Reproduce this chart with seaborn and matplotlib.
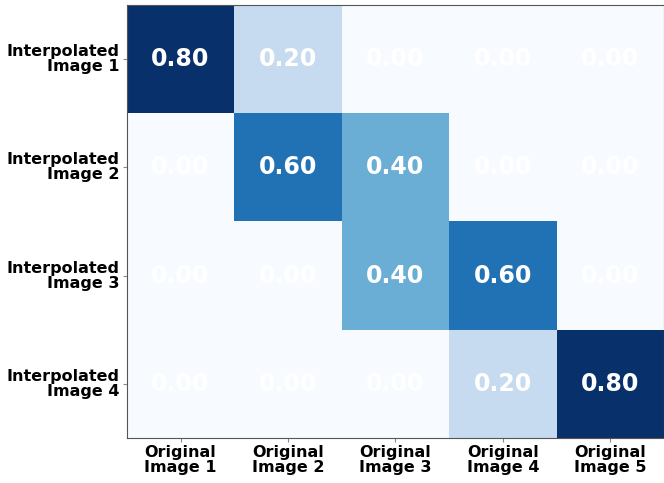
import numpy as np
import seaborn as sns
import matplotlib
matplotlib.use("Agg")
import matplotlib.pyplot as plt

row_labels = ["Interpolated\nImage 1", "Interpolated\nImage 2", "Interpolated\nImage 3", "Interpolated\nImage 4"]
col_labels = ["Original\nImage 1", "Original\nImage 2", "Original\nImage 3", "Original\nImage 4", "Original\nImage 5"]
row1 = [0.80, 0.20, 0.00, 0.00, 0.00]
row2 = [0.00, 0.60, 0.40, 0.00, 0.00]
row3 = [0.00, 0.00, 0.40, 0.60, 0.00]
row4 = [0.00, 0.00, 0.00, 0.20, 0.80]

weights = np.array([row1, row2, row3, row4])

fig = plt.figure(figsize=(6.64, 4.83), dpi=100)
ax = fig.add_axes([0.191, 0.093, 0.809, 0.897])
sns.heatmap(weights, ax=ax, cmap="Blues", cbar=False, annot=True, fmt=".2f",
            annot_kws={"color": "white", "fontsize": 17, "fontweight": "bold"},
            xticklabels=col_labels, yticklabels=row_labels)

for side in ["top", "right", "bottom", "left"]:
    ax.spines[side].set_visible(True)
    ax.spines[side].set_color("#555555")
    ax.spines[side].set_linewidth(0.8)

ax.tick_params(axis="both", length=3, color="#888888", pad=2)
plt.setp(ax.get_xticklabels(), fontsize=11.5, fontweight="bold", rotation=0, linespacing=1.0)
plt.setp(ax.get_yticklabels(), fontsize=11.5, fontweight="bold", rotation=0, ha="right",
         linespacing=1.0)

fig.savefig("out.png", dpi=100)
